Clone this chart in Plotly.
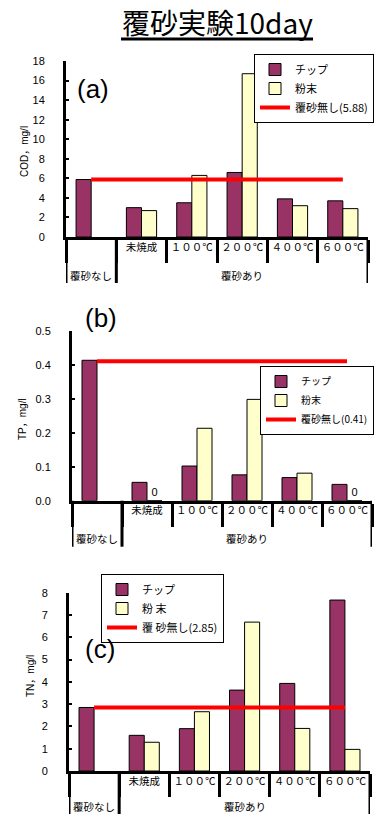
import plotly.graph_objects as go

W, H = 374, 814

# category labels (group / item)
outer = ["覆砂なし", "覆砂あり", "覆砂あり", "覆砂あり", "覆砂あり", "覆砂あり"]
inner = [" ", "未焼成", "１００℃", "２００℃", "４００℃", "６００℃"]

# (a) COD
cod_chip = [5.88, 3.0, 3.5, 6.6, 3.9, 3.7]
cod_powder = [None, 2.7, 6.3, 16.7, 3.2, 2.9]
cod_ref = 5.88

# (b) TP
tp_chip = [0.413, 0.054, 0.102, 0.076, 0.068, 0.048]
tp_powder = [None, 0, 0.213, 0.298, 0.081, 0]
tp_ref = 0.41

# (c) TN
tn_chip = [2.85, 1.6, 1.9, 3.63, 3.93, 7.67]
tn_powder = [None, 1.29, 2.66, 6.68, 1.91, 0.97]
tn_ref = 2.85

CHIP = "#993366"
POWDER = "#FFFFCC"
JP = "Noto Sans CJK JP"
NUM = "Liberation Sans, Noto Sans CJK JP"


def px_x(v):
    return v / W


def px_y(v):
    return 1 - v / H


# contiguous runs of the group labels: (name, first index, last index)
groups = []
for k, name in enumerate(outer):
    if groups and groups[-1][0] == name:
        groups[-1][2] = k
    else:
        groups.append([name, k, k])

panels = [
    dict(tag="(a)", ytitle="COD，mg/l", chip=cod_chip, powder=cod_powder, ref=cod_ref,
         refname="覆砂無し(5.88)", xdom=(66, 368), ydom=(237, 61), yrange=(0, 18), dtick=2,
         tickformat="d", legend=(374, 54), legfont=11, tagpos=(93, 89), ytpos=(24, 152), grp=38),
    dict(tag="(b)", ytitle="TP，mg/l", chip=tp_chip, powder=tp_powder, ref=tp_ref,
         refname="覆砂無し(0.41)", xdom=(72, 372), ydom=(500.7, 330.7), yrange=(0, 0.5), dtick=0.1,
         tickformat=".1f", legend=(374, 366), legfont=10, tagpos=(101, 318), ytpos=(22, 419), grp=38),
    dict(tag="(c)", ytitle="TN，mg/l", chip=tn_chip, powder=tn_powder, ref=tn_ref,
         refname="覆 砂無し(2.85)", xdom=(69, 370), ydom=(771, 592.7), yrange=(0, 8), dtick=1,
         tickformat="d", legend=(224, 574), legfont=11, tagpos=(100, 649), ytpos=(30, 676), grp=35),
]

fig = go.Figure()
annotations = []
shapes = []
layout = {}

for i, p in enumerate(panels, start=1):
    sfx = "" if i == 1 else str(i)
    xa, ya, lg = "x" + sfx, "y" + sfx, "legend" + sfx
    base = p["ydom"][0]  # pixel row of the category axis

    fig.add_trace(go.Bar(
        x=inner, y=p["chip"], name="チップ", xaxis=xa, yaxis=ya, legend=lg,
        marker=dict(color=CHIP, line=dict(color="black", width=1)),
    ))
    zero_text = ["0" if v == 0 else "" for v in p["powder"]]
    fig.add_trace(go.Bar(
        x=inner, y=p["powder"], name="粉末" if i < 3 else "粉 末",
        xaxis=xa, yaxis=ya, legend=lg,
        marker=dict(color=POWDER, line=dict(color="black", width=1)),
        text=zero_text, textposition="outside", cliponaxis=False,
        textfont=dict(family=NUM, size=11, color="black"),
    ))
    fig.add_trace(go.Scatter(
        x=[inner[0], inner[-1]], y=[p["ref"], p["ref"]],
        mode="lines", name=p["refname"], xaxis=xa, yaxis=ya, legend=lg,
        line=dict(color="#FF0000", width=4),
    ))

    layout["xaxis" + sfx] = dict(
        type="category", domain=[px_x(p["xdom"][0]), px_x(p["xdom"][1])], anchor=ya,
        automargin=False, range=[-0.5, len(inner) - 0.5],
        showline=True, linewidth=3, linecolor="black",
        ticks="outside", tickson="boundaries", ticklen=23, tickwidth=3, tickcolor="black",
        showgrid=False, tickangle=0, tickfont=dict(family=JP, size=10.5, color="black"),
        ticklabelstandoff=-2,
    )
    layout["yaxis" + sfx] = dict(
        domain=[px_y(p["ydom"][0]), px_y(p["ydom"][1])], anchor=xa,
        automargin=False,
        range=list(p["yrange"]), dtick=p["dtick"], tickformat=p["tickformat"],
        showline=True, linewidth=3, linecolor="black",
        ticks="inside", ticklen=3, tickwidth=2, tickcolor="black",
        showgrid=False, zeroline=False, ticklabelstandoff=16,
        tickfont=dict(family=NUM, size=11, color="black"),
    )
    layout[lg] = dict(
        x=px_x(p["legend"][0]), y=px_y(p["legend"][1]), xanchor="right", yanchor="top",
        bgcolor="white", bordercolor="black", borderwidth=1,
        font=dict(family=JP, size=p["legfont"], color="black"), itemwidth=30, tracegroupgap=0,
    )

    # group labels and the long dividers between groups
    for name, a, b in groups:
        annotations.append(dict(
            text=name, x=(a + b) / 2, y=px_y(base + p["grp"]), xref=xa, yref="paper",
            xanchor="center", yanchor="middle", showarrow=False,
            font=dict(family=JP, size=10.5, color="black"),
        ))
    edges = [g[1] - 0.5 for g in groups] + [groups[-1][2] + 0.5]
    for e in edges:
        shapes.append(dict(
            type="line", xref=xa, yref="paper", x0=e, x1=e,
            y0=px_y(base), y1=px_y(base + 46), line=dict(color="black", width=3),
        ))

    annotations.append(dict(
        text=p["tag"], x=px_x(p["tagpos"][0]), y=px_y(p["tagpos"][1]), xref="paper", yref="paper",
        xanchor="center", yanchor="middle", showarrow=False,
        font=dict(family="Liberation Sans", size=26, color="black"),
    ))
    annotations.append(dict(
        text=p["ytitle"], x=px_x(p["ytpos"][0]), y=px_y(p["ytpos"][1]), xref="paper", yref="paper",
        xanchor="center", yanchor="middle", showarrow=False, textangle=-90,
        font=dict(family=NUM, size=10, color="black"),
    ))

annotations.append(dict(
    text="覆砂実験10day", x=px_x(217), y=px_y(22), xref="paper", yref="paper",
    xanchor="center", yanchor="middle", showarrow=False,
    font=dict(family=JP, size=28, color="black"),
))
shapes.append(dict(type="line", xref="paper", yref="paper", x0=px_x(121), x1=px_x(313),
                   y0=px_y(39), y1=px_y(39), line=dict(color="black", width=3)))

fig.update_layout(
    width=W, height=H, margin=dict(l=0, r=0, t=0, b=0),
    paper_bgcolor="white", plot_bgcolor="white",
    barmode="group", bargap=0.4, bargroupgap=0,
    annotations=annotations, shapes=shapes,
    **layout,
)

fig.write_html("out.html")
